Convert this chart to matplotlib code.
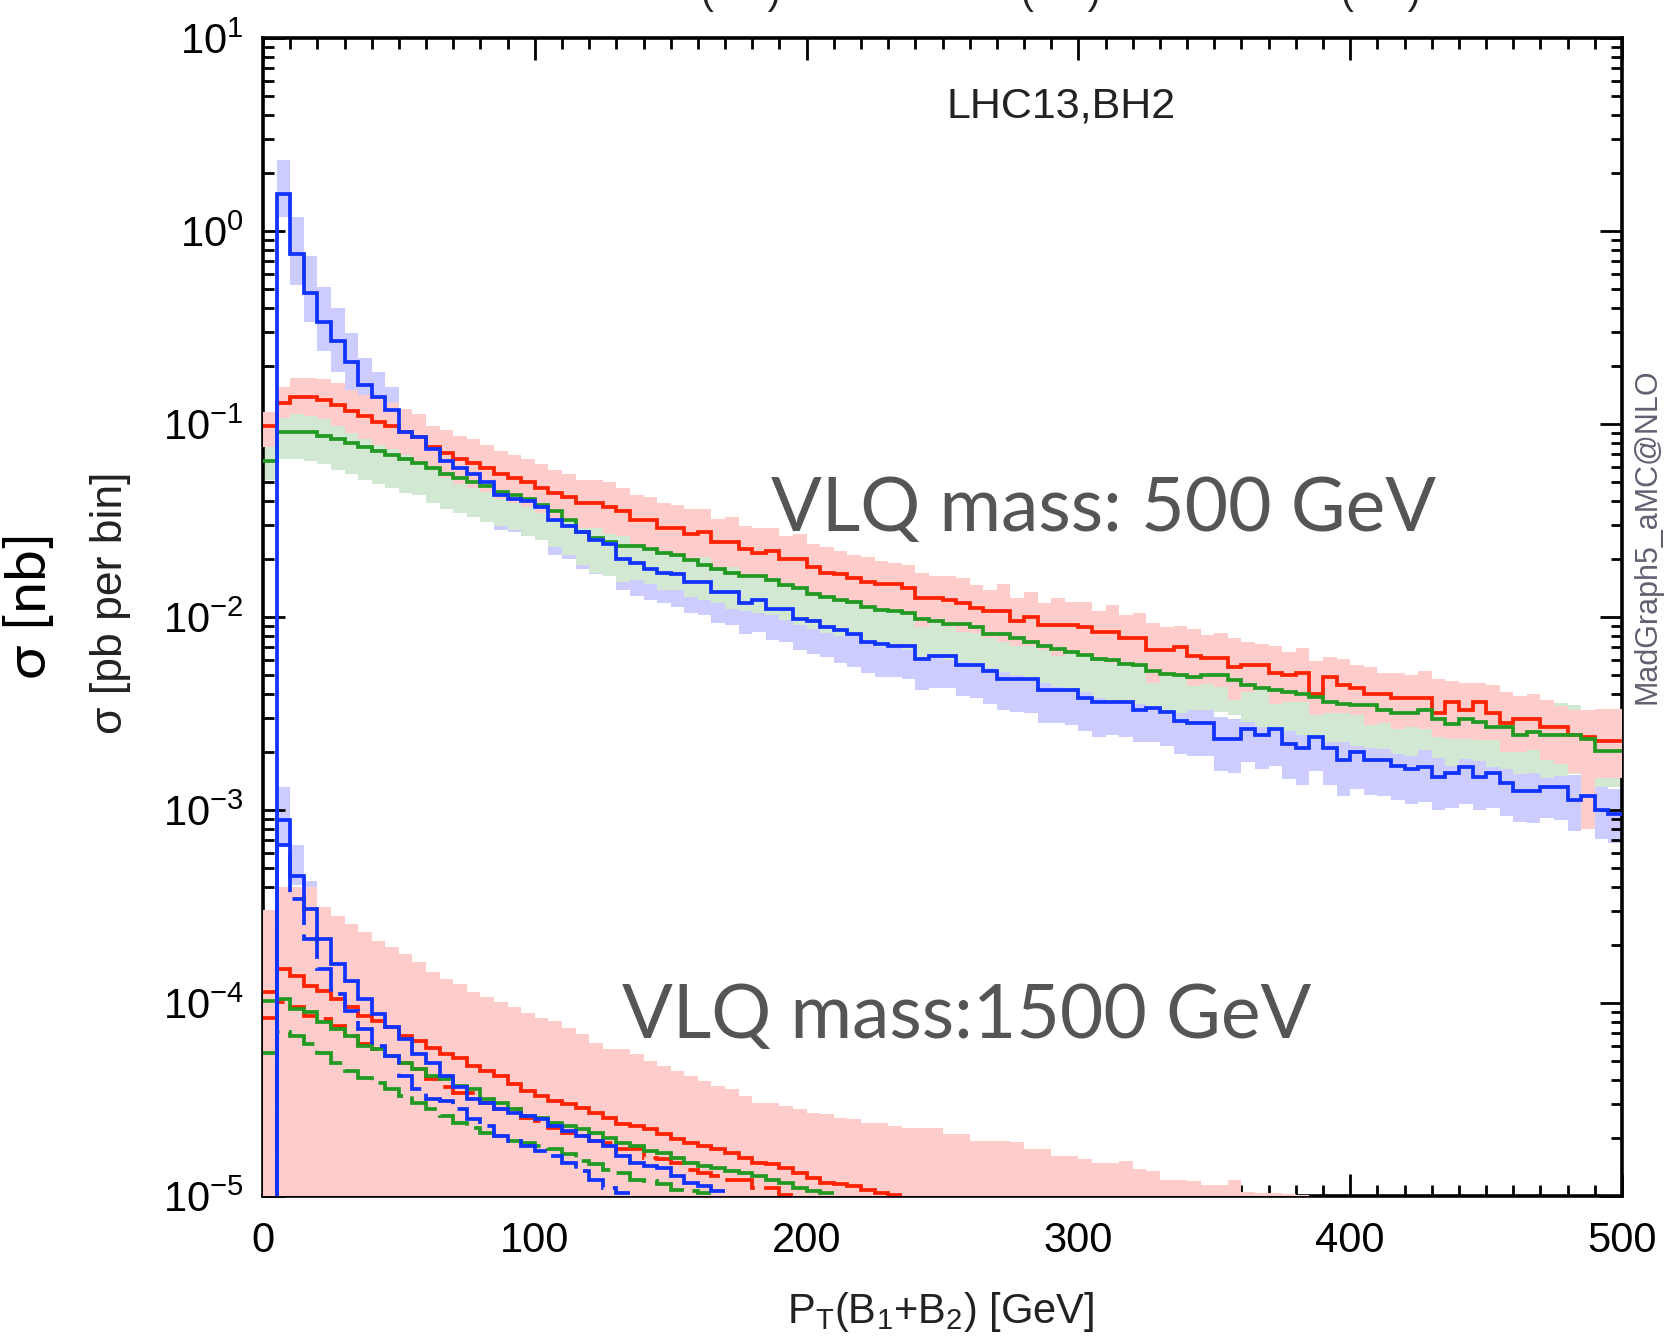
import numpy as np
import matplotlib
matplotlib.use("Agg")
import matplotlib.pyplot as plt
from matplotlib.ticker import MultipleLocator, LogLocator, NullFormatter

plt.rcParams['font.family'] = ['Liberation Sans', 'DejaVu Sans']
plt.rcParams['mathtext.fontset'] = 'custom'
plt.rcParams['mathtext.rm'] = 'Liberation Sans'
plt.rcParams['mathtext.it'] = 'Liberation Sans:italic'
plt.rcParams['mathtext.default'] = 'regular'
plt.rcParams['axes.unicode_minus'] = False

# 5 GeV bins from 0 to 500 GeV
edges = np.arange(0, 505, 5)

# ---- VLQ mass 500 GeV: log10(sigma) per bin ----
red500 = [-1.01, -0.89, -0.86, -0.86, -0.875, -0.90, -0.935, -0.96, -0.99, -1.01,
          -1.04, -1.07, -1.12, -1.15, -1.18, -1.20, -1.23, -1.26, -1.28, -1.30,
          -1.33, -1.36, -1.38, -1.41, -1.41, -1.43, -1.45, -1.50, -1.50, -1.54,
          -1.54, -1.57, -1.56, -1.61, -1.61, -1.65, -1.67, -1.66, -1.70, -1.70,
          -1.74, -1.77, -1.78, -1.80, -1.82, -1.83, -1.83, -1.85, -1.90, -1.90,
          -1.91, -1.93, -1.955, -1.97, -1.97, -2.02, -2.00, -2.04, -2.04, -2.04,
          -2.05, -2.08, -2.08, -2.11, -2.11, -2.17, -2.17, -2.155, -2.20, -2.215,
          -2.215, -2.26, -2.25, -2.25, -2.29, -2.30, -2.29, -2.40, -2.31, -2.35,
          -2.37, -2.40, -2.40, -2.42, -2.42, -2.42, -2.50, -2.44, -2.48, -2.44,
          -2.50, -2.55, -2.53, -2.53, -2.57, -2.57, -2.61, -2.62, -2.645, -2.645]
green500 = [-1.19, -1.04, -1.04, -1.04, -1.06, -1.08, -1.10, -1.12, -1.14, -1.16,
            -1.18, -1.20, -1.23, -1.26, -1.28, -1.30, -1.32, -1.35, -1.37, -1.39,
            -1.42, -1.45, -1.50, -1.56, -1.59, -1.61, -1.63, -1.63, -1.65, -1.67,
            -1.68, -1.705, -1.73, -1.75, -1.77, -1.79, -1.79, -1.81, -1.835, -1.85,
            -1.88, -1.895, -1.91, -1.92, -1.947, -1.965, -1.97, -1.98, -2.008, -2.02,
            -2.034, -2.034, -2.05, -2.086, -2.086, -2.11, -2.129, -2.15, -2.164, -2.18,
            -2.199, -2.22, -2.225, -2.242, -2.25, -2.28, -2.294, -2.30, -2.31, -2.30,
            -2.30, -2.327, -2.354, -2.37, -2.38, -2.39, -2.40, -2.415, -2.44, -2.45,
            -2.458, -2.458, -2.484, -2.50, -2.50, -2.48, -2.53, -2.553, -2.527, -2.545,
            -2.57, -2.57, -2.614, -2.596, -2.614, -2.614, -2.614, -2.631, -2.692, -2.692]
blue500 = [-7.0, 0.19, -0.12, -0.32, -0.47, -0.57, -0.68, -0.80, -0.86, -0.93,
           -1.04, -1.07, -1.13, -1.19, -1.23, -1.26, -1.30, -1.37, -1.39, -1.40,
           -1.43, -1.50, -1.53, -1.56, -1.60, -1.62, -1.70, -1.72, -1.75, -1.77,
           -1.78, -1.82, -1.82, -1.87, -1.87, -1.93, -1.91, -1.96, -1.96, -2.01,
           -2.02, -2.05, -2.07, -2.09, -2.13, -2.14, -2.15, -2.15, -2.22, -2.20,
           -2.20, -2.25, -2.25, -2.28, -2.32, -2.32, -2.32, -2.38, -2.38, -2.38,
           -2.42, -2.44, -2.44, -2.44, -2.48, -2.47, -2.49, -2.54, -2.55, -2.55,
           -2.63, -2.63, -2.58, -2.61, -2.58, -2.66, -2.68, -2.62, -2.68, -2.74,
           -2.70, -2.74, -2.74, -2.77, -2.79, -2.78, -2.83, -2.81, -2.78, -2.83,
           -2.81, -2.86, -2.90, -2.90, -2.88, -2.88, -2.95, -2.93, -3.00, -3.02]

# uncertainty bands: distance (in dex) above / below the central value
red500_up = [0.07, 0.08, 0.10, 0.10, 0.11, 0.11, 0.11, 0.11, 0.12, 0.12,
             0.12, 0.12, 0.11, 0.12, 0.12, 0.12, 0.12, 0.12, 0.12, 0.12,
             0.12, 0.12, 0.12, 0.12, 0.12, 0.13, 0.12, 0.13, 0.12, 0.13,
             0.12, 0.13, 0.12, 0.12, 0.13, 0.12, 0.13, 0.12, 0.12, 0.13,
             0.12, 0.13, 0.12, 0.12, 0.13, 0.12, 0.11, 0.12, 0.13, 0.11,
             0.12, 0.13, 0.12, 0.11, 0.14, 0.12, 0.13, 0.11, 0.14, 0.12,
             0.13, 0.11, 0.14, 0.12, 0.13, 0.14, 0.12, 0.11, 0.14, 0.12,
             0.13, 0.15, 0.12, 0.11, 0.14, 0.12, 0.13, 0.17, 0.10, 0.13,
             0.12, 0.14, 0.11, 0.13, 0.12, 0.14, 0.18, 0.11, 0.14, 0.10,
             0.15, 0.16, 0.12, 0.13, 0.14, 0.11, 0.13, 0.14, 0.17, 0.17]
red500_dn = [0.11, 0.08, 0.09, 0.10, 0.10, 0.11, 0.11, 0.12, 0.12, 0.12,
             0.12, 0.13, 0.12, 0.13, 0.13, 0.13, 0.12, 0.13, 0.13, 0.13,
             0.13, 0.13, 0.12, 0.13, 0.13, 0.14, 0.13, 0.13, 0.14, 0.13,
             0.13, 0.14, 0.13, 0.14, 0.13, 0.14, 0.13, 0.14, 0.13, 0.14,
             0.14, 0.13, 0.14, 0.13, 0.14, 0.14, 0.13, 0.14, 0.15, 0.13,
             0.14, 0.15, 0.13, 0.14, 0.16, 0.13, 0.15, 0.13, 0.16, 0.14,
             0.15, 0.13, 0.16, 0.14, 0.15, 0.17, 0.13, 0.14, 0.16, 0.13,
             0.15, 0.17, 0.14, 0.13, 0.16, 0.14, 0.15, 0.11, 0.19, 0.15,
             0.14, 0.16, 0.15, 0.16, 0.15, 0.16, 0.12, 0.19, 0.15, 0.20,
             0.14, 0.15, 0.17, 0.16, 0.17, 0.19, 0.20, 0.48, 0.19, 0.19]
green500_up = [0.08, 0.09, 0.09, 0.09, 0.09, 0.09, 0.10, 0.10, 0.09, 0.10,
               0.10, 0.10, 0.10, 0.11, 0.10, 0.10, 0.11, 0.10, 0.11, 0.10,
               0.11, 0.11, 0.11, 0.11, 0.12, 0.11, 0.11, 0.12, 0.11, 0.12,
               0.12, 0.11, 0.12, 0.12, 0.12, 0.13, 0.12, 0.12, 0.13, 0.12,
               0.13, 0.12, 0.13, 0.12, 0.13, 0.13, 0.12, 0.13, 0.14, 0.13,
               0.13, 0.14, 0.13, 0.14, 0.13, 0.14, 0.14, 0.13, 0.15, 0.14,
               0.14, 0.15, 0.13, 0.15, 0.14, 0.15, 0.14, 0.16, 0.15, 0.14,
               0.15, 0.16, 0.14, 0.15, 0.16, 0.14, 0.17, 0.16, 0.15, 0.16,
               0.14, 0.16, 0.17, 0.15, 0.16, 0.14, 0.17, 0.16, 0.15, 0.17,
               0.16, 0.15, 0.17, 0.16, 0.15, 0.17, 0.16, 0.15, 0.18, 0.18]
green500_dn = [0.10, 0.14, 0.14, 0.15, 0.15, 0.16, 0.16, 0.17, 0.17, 0.17,
               0.18, 0.17, 0.18, 0.18, 0.18, 0.18, 0.19, 0.18, 0.18, 0.19,
               0.18, 0.19, 0.18, 0.17, 0.18, 0.18, 0.19, 0.18, 0.18, 0.19,
               0.18, 0.19, 0.18, 0.18, 0.19, 0.18, 0.19, 0.18, 0.18, 0.19,
               0.18, 0.19, 0.19, 0.18, 0.19, 0.19, 0.18, 0.19, 0.20, 0.19,
               0.19, 0.20, 0.19, 0.18, 0.20, 0.19, 0.20, 0.19, 0.20, 0.20,
               0.19, 0.20, 0.21, 0.20, 0.20, 0.19, 0.21, 0.20, 0.17, 0.18,
               0.19, 0.18, 0.19, 0.20, 0.19, 0.20, 0.21, 0.20, 0.21, 0.20,
               0.21, 0.22, 0.20, 0.21, 0.22, 0.21, 0.20, 0.22, 0.21, 0.20,
               0.21, 0.22, 0.20, 0.21, 0.22, 0.21, 0.20, 0.22, 0.19, 0.19]
blue500_up = [0.00, 0.18, 0.19, 0.19, 0.18, 0.17, 0.15, 0.14, 0.13, 0.12,
              0.11, 0.10, 0.10, 0.10, 0.10, 0.09, 0.10, 0.10, 0.09, 0.10,
              0.10, 0.09, 0.10, 0.10, 0.09, 0.10, 0.10, 0.09, 0.10, 0.10,
              0.09, 0.10, 0.10, 0.09, 0.10, 0.10, 0.09, 0.10, 0.10, 0.09,
              0.10, 0.10, 0.09, 0.10, 0.10, 0.09, 0.10, 0.10, 0.10, 0.09,
              0.10, 0.10, 0.09, 0.10, 0.10, 0.10, 0.09, 0.10, 0.10, 0.10,
              0.10, 0.09, 0.10, 0.10, 0.10, 0.09, 0.10, 0.11, 0.10, 0.10,
              0.11, 0.10, 0.10, 0.11, 0.10, 0.11, 0.11, 0.10, 0.11, 0.11,
              0.11, 0.12, 0.11, 0.11, 0.12, 0.11, 0.12, 0.12, 0.11, 0.12,
              0.12, 0.12, 0.13, 0.12, 0.12, 0.13, 0.13, 0.12, 0.13, 0.13]
blue500_dn = [0.00, 0.12, 0.16, 0.15, 0.15, 0.16, 0.16, 0.17, 0.17, 0.17,
              0.17, 0.17, 0.18, 0.17, 0.17, 0.18, 0.17, 0.18, 0.17, 0.18,
              0.17, 0.18, 0.17, 0.19, 0.18, 0.17, 0.16, 0.17, 0.16, 0.16,
              0.17, 0.16, 0.17, 0.16, 0.17, 0.16, 0.17, 0.16, 0.17, 0.16,
              0.17, 0.16, 0.17, 0.17, 0.16, 0.17, 0.16, 0.17, 0.16, 0.17,
              0.17, 0.16, 0.17, 0.17, 0.16, 0.17, 0.18, 0.17, 0.17, 0.18,
              0.17, 0.18, 0.17, 0.18, 0.17, 0.18, 0.18, 0.17, 0.17, 0.17,
              0.17, 0.18, 0.17, 0.18, 0.19, 0.18, 0.19, 0.18, 0.19, 0.19,
              0.19, 0.18, 0.19, 0.18, 0.18, 0.18, 0.17, 0.18, 0.19, 0.17,
              0.18, 0.17, 0.16, 0.17, 0.16, 0.17, 0.16, 0.17, 0.15, 0.15]

# ---- VLQ mass 1500 GeV: log10(sigma) per bin, until the curve leaves the frame ----
red1500 = [-3.945, -3.824, -3.859, -3.911, -3.937, -3.98, -4.023, -4.067, -4.092, -4.127,
           -4.17, -4.196, -4.231, -4.265, -4.283, -4.326, -4.352, -4.378, -4.422, -4.456,
           -4.482, -4.508, -4.525, -4.543, -4.569, -4.595, -4.629, -4.638, -4.655, -4.681,
           -4.707, -4.724, -4.742, -4.759, -4.776, -4.802, -4.828, -4.837, -4.854, -4.88,
           -4.906, -4.932, -4.94, -4.949, -4.967, -4.984, -4.993]
red1500_dash = [-4.08, -3.997, -4.023, -4.067, -4.084, -4.118, -4.17, -4.213, -4.239, -4.274,
                -4.309, -4.343, -4.395, -4.438, -4.464, -4.464, -4.516, -4.551, -4.551, -4.595,
                -4.612, -4.647, -4.672, -4.69, -4.716, -4.724, -4.759, -4.759, -4.802, -4.811,
                -4.828, -4.863, -4.88, -4.897, -4.915, -4.915, -4.958, -4.958, -4.993]
green1500 = [-3.99, -3.98, -4.032, -4.049, -4.101, -4.136, -4.17, -4.222, -4.239, -4.274,
             -4.309, -4.343, -4.378, -4.395, -4.43, -4.447, -4.499, -4.516, -4.551, -4.586,
             -4.595, -4.62, -4.638, -4.655, -4.672, -4.698, -4.724, -4.742, -4.768, -4.776,
             -4.802, -4.828, -4.846, -4.854, -4.871, -4.88, -4.897, -4.915, -4.932, -4.958,
             -4.975, -4.984]
green1500_dash = [-4.257, -4.153, -4.17, -4.213, -4.257, -4.309, -4.352, -4.387, -4.413, -4.447,
                  -4.482, -4.516, -4.551, -4.585, -4.62, -4.646, -4.672, -4.69, -4.716, -4.724,
                  -4.742, -4.759, -4.785, -4.82, -4.837, -4.863, -4.88, -4.915, -4.924, -4.94,
                  -4.967, -4.975, -4.984]
blue1500 = [-7.0, -3.054, -3.34, -3.513, -3.669, -3.80, -3.885, -3.98, -4.058, -4.127,
            -4.188, -4.265, -4.309, -4.378, -4.438, -4.499, -4.52, -4.55, -4.569, -4.586,
            -4.603, -4.638, -4.664, -4.69, -4.716, -4.742, -4.794, -4.828, -4.846, -4.854,
            -4.897, -4.932, -4.949, -4.975]
blue1500_dash = [-7.0, -3.184, -3.461, -3.669, -3.824, -3.954, -4.04, -4.136, -4.222, -4.274,
                 -4.378, -4.447, -4.499, -4.508, -4.55, -4.60, -4.64, -4.69, -4.716, -4.742,
                 -4.768, -4.794, -4.828, -4.871, -4.915, -4.958, -4.984]
# band edges (log10) for the 1500 GeV uncertainty bands
blue1500_hi = [-7.0, -2.88, -3.18, -3.37, -3.51, -3.64, -3.73, -3.83, -3.91]
blue1500_lo = [-7.0, -3.18, -3.39, -3.46, -3.84, -3.97, -4.06, -4.15, -4.23]
red1500_hi = [-3.52, -3.40, -3.40, -3.40, -3.504, -3.548, -3.59, -3.634, -3.677, -3.712,
              -3.746, -3.79, -3.842, -3.876, -3.902, -3.945, -3.971, -3.997, -4.02, -4.05,
              -4.076, -4.093, -4.128, -4.162, -4.205, -4.24, -4.24, -4.266, -4.30, -4.327,
              -4.352, -4.378, -4.404, -4.43, -4.448, -4.482, -4.517, -4.517, -4.534, -4.551,
              -4.569, -4.577, -4.595, -4.603, -4.62, -4.62, -4.638, -4.647, -4.647, -4.647,
              -4.681, -4.681, -4.716, -4.716, -4.716, -4.72, -4.759, -4.759, -4.794, -4.794,
              -4.81, -4.828, -4.828, -4.82, -4.86, -4.871, -4.915, -4.915, -4.92, -4.941,
              -4.941, -4.915, -4.98, -4.984, -4.984, -4.99, -4.995]

RED, GREEN, BLUE = '#ff2200', '#229922', '#1133ff'
PINK, LGREEN, LBLUE = '#ffcccc', '#d2e8d2', '#ccccff'

fig = plt.figure(figsize=(16.72, 13.37), dpi=100)
ax = fig.add_axes([0.1573, 0.1055, 0.8128, 0.8661])


def band(center, up, dn, color, z):
    c = np.array(center)
    ax.stairs(10 ** (c + np.array(up)), edges, baseline=10 ** (c - np.array(dn)),
              fill=True, color=color, zorder=z)


def hist(vals, color, dashed=False, z=5):
    v = 10 ** np.array(vals)
    ls = (0, (10, 2.5)) if dashed else '-'
    ax.stairs(v, edges[:len(v) + 1], baseline=None, color=color, linewidth=2.7,
              linestyle=ls, zorder=z)


band(blue500, blue500_up, blue500_dn, LBLUE, 1)
band(green500, green500_up, green500_dn, LGREEN, 2)
band(red500, red500_up, red500_dn, PINK, 3)

ax.stairs(10 ** np.array(blue1500_hi), edges[:len(blue1500_hi) + 1],
          baseline=10 ** np.array(blue1500_lo), fill=True, color=LBLUE, zorder=1)
ax.stairs(10 ** np.array(red1500_hi), edges[:len(red1500_hi) + 1],
          baseline=1e-8, fill=True, color=PINK, zorder=3)

hist(red500, RED)
hist(green500, GREEN)
hist(blue500, BLUE, z=6)

hist(red1500, RED)
hist(red1500_dash, RED, dashed=True)
hist(green1500, GREEN)
hist(green1500_dash, GREEN, dashed=True)
hist(blue1500, BLUE, z=6)
hist(blue1500_dash, BLUE, dashed=True, z=6)

ax.set_xlim(0, 500)
ax.set_yscale('log')
ax.set_ylim(1e-5, 10)
ax.xaxis.set_major_locator(MultipleLocator(100))
ax.xaxis.set_minor_locator(MultipleLocator(10))
ax.yaxis.set_major_locator(LogLocator(base=10, numticks=20))
ax.yaxis.set_minor_locator(LogLocator(base=10, subs=range(2, 10), numticks=20))
ax.yaxis.set_minor_formatter(NullFormatter())
ax.tick_params(which='both', direction='in', top=True, right=True, width=2, colors='black')
ax.tick_params(which='major', length=16, labelsize=30)
ax.tick_params(axis='x', which='major', pad=18)
ax.tick_params(axis='y', which='major', pad=14)
ax.tick_params(which='minor', length=8)
for s in ax.spines.values():
    s.set_linewidth(2.6)

fig.text(0.5625, 0.019, r"P$_{\rm T}$(B$_{\rm 1}$+B$_{\rm 2}$) [GeV]", ha='center', va='center',
         fontsize=30, color='#222222')
fig.text(0.0658, 0.549, "σ [pb per bin]", rotation=90, ha='center', va='center',
         fontsize=32, color='#222222')
fig.text(0.018, 0.5475, "σ [nb]", rotation=90, ha='center', va='center',
         fontsize=41, family=['Lato', 'DejaVu Sans'], color='black')
fig.text(0.6346, 0.920, "LHC13,BH2", ha='center', va='center', fontsize=31, color='#222222')
fig.text(0.9856, 0.599, "MadGraph5_aMC@NLO", rotation=90, ha='center', va='center',
         fontsize=22, color='#606070')
fig.text(0.660, 0.6186, "VLQ mass: 500 GeV", ha='center', va='center', fontsize=54,
         family=['Lato', 'DejaVu Sans'], color='#555555')
fig.text(0.578, 0.240, "VLQ mass:1500 GeV", ha='center', va='center', fontsize=54,
         family=['Lato', 'DejaVu Sans'], color='#555555')

# bottoms of a title line that is cut off by the top edge
for xp in [741, 1061, 1381]:
    fig.text(xp / 1672, 1 - 4 / 1337, "(     )", ha='center', va='baseline',
             fontsize=28, color='#222222')

fig.savefig("out.png", dpi=100)
